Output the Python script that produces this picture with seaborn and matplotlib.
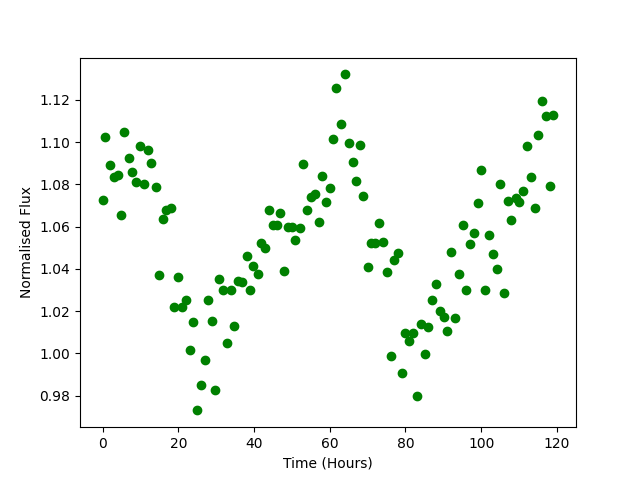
import seaborn as sns
import matplotlib
matplotlib.use("Agg")
import matplotlib.pyplot as plt
import pandas as pd

time_hours = [
    0.0, 0.70, 1.85, 2.91, 4.05, 4.76, 5.73, 6.87, 7.84, 8.90,
    9.78, 10.84, 11.89, 12.86, 14.01, 14.80, 15.86, 16.83, 17.97, 18.94,
    19.82, 20.97, 21.94, 23.00, 23.79, 24.85, 25.90, 26.96, 27.93, 28.81,
    29.78, 30.66, 31.9, 33.0, 33.9, 34.8, 35.8, 36.8, 38.1, 38.9,
    39.8, 41.0, 41.95, 42.8, 43.9, 44.9, 46.0, 47.0, 47.8, 48.9,
    50.0, 50.9, 52.1, 52.9, 53.9, 55.0, 56.1, 57.1, 57.9, 58.9,
    60.0, 61.0, 61.7, 62.9, 64.0, 65.0, 66.1, 66.9, 67.9, 68.9,
    70.0, 71.0, 71.9, 73.0, 74.1, 75.1, 76.1, 76.9, 78.0, 79.0,
    80.0, 80.9, 82.0, 83.0, 84.0, 85.1, 85.9, 86.97, 88.0, 89.1,
    90.1, 90.9, 92.0, 93.0, 94.1, 95.2, 96.0, 97.0, 98.0, 99.1,
    99.9, 101.0, 102.0, 103.0, 104.2, 104.9, 106.0, 107.0, 108.0, 109.1,
    110.0, 111.0, 112.1, 113.1, 114.2, 115.0, 116.0, 117.1, 118.1, 119.1,
]

#Normalised flux values
flux = [
    1.0724, 1.1022, 1.0890, 1.0833, 1.0845, 1.0655, 1.1047, 1.0923, 1.0858, 1.0809,
    1.0980, 1.0800, 1.0962, 1.0899, 1.0786, 1.0369, 1.0634, 1.0678, 1.0688, 1.0218,
    1.0360, 1.0218, 1.0252, 1.0014, 1.0147, 0.9730, 0.9849, 0.9967, 1.0252, 1.0153,
    0.9825, 1.0352, 1.0300, 1.0047, 1.0300, 1.0129, 1.0342, 1.0336, 1.0459, 1.0300,
    1.0412, 1.0374, 1.0523, 1.0497, 1.0677, 1.0606, 1.0606, 1.0663, 1.0388, 1.0596,
    1.0596, 1.0535, 1.0592, 1.0894, 1.0677, 1.0741, 1.0752, 1.0620, 1.0838, 1.0715,
    1.0781, 1.1013, 1.1254, 1.1084, 1.1320, 1.0995, 1.0904, 1.0814, 1.0984, 1.0743,
    1.0407, 1.0521, 1.0521, 1.0615, 1.0528, 1.0383, 0.9986, 1.0440, 1.0473, 0.9905,
    1.0095, 1.0058, 1.0095, 0.9796, 1.0137, 0.9997, 1.0123, 1.0251, 1.0327, 1.0199,
    1.0172, 1.0104, 1.0478, 1.0166, 1.0374, 1.0606, 1.0300, 1.0516, 1.0568, 1.0710,
    1.0866, 1.0300, 1.0558, 1.0469, 1.0398, 1.0800, 1.0284, 1.0719, 1.0629, 1.0734,
    1.0715, 1.0768, 1.0980, 1.0833, 1.0686, 1.1032, 1.1193, 1.1122, 1.0790, 1.1128,
]

df = pd.DataFrame({"Time (Hours)": time_hours, "Normalised Flux": flux})

#Set up the figure
fig, ax = plt.subplots(figsize=(6.4, 4.8), dpi=100)

#Draw the light curve points
sns.scatterplot(data=df, x="Time (Hours)", y="Normalised Flux", ax=ax,
                color="green", edgecolor="green", linewidth=1, s=36)

fig.savefig("out.png", dpi=100)
